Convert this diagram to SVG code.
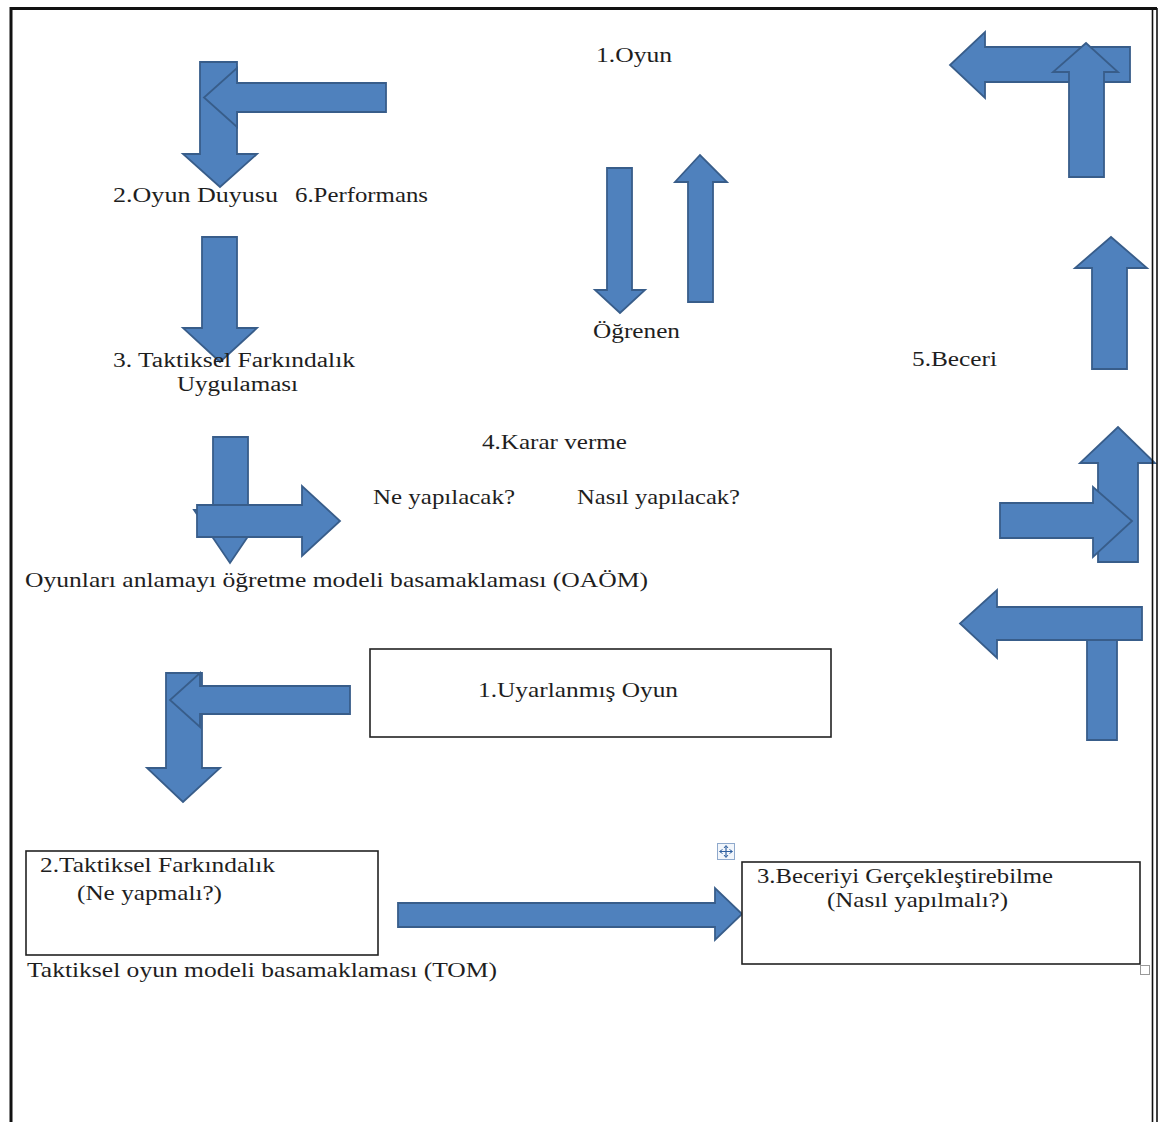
<svg xmlns="http://www.w3.org/2000/svg" width="1165" height="1122" viewBox="0 0 1165 1122">
<style>
.ar{fill:#4F81BD;stroke:#385D8A;stroke-width:1.8;stroke-linejoin:miter}
.bx{fill:#fff;stroke:#222;stroke-width:1.6}
.t{font-family:"Liberation Serif","Times New Roman",serif;font-size:22px;fill:#1e1e1e}
.s{font-size:20px}
.bd{fill:none;stroke:#111}
</style>
<rect width="1165" height="1122" fill="#fff"/>

<g id="connectors">
  <path class="ar" d="M200,62 H237 V154 H257 L220,187 L183,154 H200 Z"/>
  <path class="ar" d="M386,83 V112 H237 V127 L204,97.5 L237,68 V83 Z"/>
  <path class="ar" d="M202,237 H237 V328 H257 L220,362 L183,328 H202 Z"/>
  <path class="ar" d="M213,437 H248 V510 H266 L230,563 L194,510 H213 Z"/>
  <path class="ar" d="M197,505 H302 V486 L340,521 L302,556 V537 H197 Z"/>
  <path class="ar" d="M607,168 H632 V290 H645 L620,313 L595,290 H607 Z"/>
  <path class="ar" d="M688,302 H713 V182 H727 L700,155 L675,182 H688 Z"/>
  <path class="ar" d="M1130,47 V82 H985 V98 L950,65 L985,32 V47 Z"/>
  <path class="ar" d="M1069,177 H1104 V72 H1118 L1086,43 L1053,72 H1069 Z"/>
  <path class="ar" d="M1092,369 H1127 V268 H1147 L1111,237 L1075,268 H1092 Z"/>
  <path class="ar" d="M1098,562 H1138 V463 H1155 L1118,427 L1080,463 H1098 Z"/>
  <path class="ar" d="M1000,503 H1093 V487 L1132,521 L1093,557 V538 H1000 Z"/>
  <path class="ar" d="M1087,630 H1117 V740 H1087 Z"/>
  <path class="ar" d="M1142,607 V640 H997 V658 L960,623.5 L997,590 V607 Z"/>
  <path class="ar" d="M166,673 H202 V768 H220 L183,802 L147,768 H166 Z"/>
  <path class="ar" d="M350,686 V714 H200 V727 L170,700 L200,673 V686 Z"/>
  <path class="ar" d="M398,903 H715 V888 L742,914 L715,940 V927 H398 Z"/>
</g>

<g id="n-oyun"><text class="t" x="596" y="62" textLength="76" lengthAdjust="spacingAndGlyphs">1.Oyun</text></g>
<g id="n-oyunduyusu"><text class="t" x="113" y="202" textLength="165" lengthAdjust="spacingAndGlyphs">2.Oyun Duyusu</text></g>
<g id="n-performans"><text class="t" x="295" y="202" textLength="133" lengthAdjust="spacingAndGlyphs">6.Performans</text></g>
<g id="n-taktiksel-uyg">
  <text class="t s" x="113" y="367" textLength="242" lengthAdjust="spacingAndGlyphs">3. Taktiksel Farkındalık</text>
  <text class="t s" x="177" y="391" textLength="121" lengthAdjust="spacingAndGlyphs">Uygulaması</text>
</g>
<g id="n-ogrenen"><text class="t" x="593" y="338" textLength="87" lengthAdjust="spacingAndGlyphs">Öğrenen</text></g>
<g id="n-beceri"><text class="t" x="912" y="366" textLength="85" lengthAdjust="spacingAndGlyphs">5.Beceri</text></g>
<g id="n-karar">
  <text class="t" x="482" y="449" textLength="145" lengthAdjust="spacingAndGlyphs">4.Karar verme</text>
  <text class="t" x="373" y="504" textLength="142" lengthAdjust="spacingAndGlyphs">Ne yapılacak?</text>
  <text class="t" x="577" y="504" textLength="163" lengthAdjust="spacingAndGlyphs">Nasıl yapılacak?</text>
</g>
<g id="n-oaom"><text class="t" x="25" y="587" textLength="623" lengthAdjust="spacingAndGlyphs">Oyunları anlamayı öğretme modeli basamaklaması (OAÖM)</text></g>

<g id="n-uyarlanmis">
  <rect class="bx" x="370" y="649" width="461" height="88"/>
  <text class="t" x="478" y="697" textLength="200" lengthAdjust="spacingAndGlyphs">1.Uyarlanmış Oyun</text>
</g>
<g id="n-taktiksel-fark">
  <rect class="bx" x="26" y="851" width="352" height="104"/>
  <text class="t" x="40" y="872" textLength="235" lengthAdjust="spacingAndGlyphs">2.Taktiksel Farkındalık</text>
  <text class="t" x="77" y="900" textLength="145" lengthAdjust="spacingAndGlyphs">(Ne yapmalı?)</text>
</g>
<g id="n-tom"><text class="t" x="27" y="977" textLength="470" lengthAdjust="spacingAndGlyphs">Taktiksel oyun modeli basamaklaması (TOM)</text></g>
<g id="n-beceriyi">
  <rect class="bx" x="742" y="862" width="398" height="102"/>
  <text class="t" x="757" y="883" textLength="296" lengthAdjust="spacingAndGlyphs">3.Beceriyi Gerçekleştirebilme</text>
  <text class="t" x="827" y="907" textLength="181" lengthAdjust="spacingAndGlyphs">(Nasıl yapılmalı?)</text>
</g>

<g id="handles">
  <rect x="717.5" y="843.5" width="17" height="16" fill="#f2f6fb" stroke="#8fa9cc" stroke-width="1"/>
  <path d="M726,846 V857 M720,851.5 H732" stroke="#2f5f9f" stroke-width="1.2" fill="none"/>
  <path d="M724,848 L726,845.5 L728,848 M724,855 L726,857.5 L728,855 M722.5,849.5 L719.5,851.5 L722.5,853.5 M729.5,849.5 L732.5,851.5 L729.5,853.5" stroke="#2f5f9f" stroke-width="1" fill="none"/>
  <rect x="1140.5" y="965.5" width="9" height="9" fill="#fff" stroke="#999" stroke-width="1"/>
</g>

<g id="border">
  <path class="bd" d="M11,1122 V8.5 H1157" stroke-width="3"/>
  <path class="bd" d="M1152.5,8 V1122" stroke-width="1.6"/>
  <path class="bd" d="M1157,8 V1122" stroke-width="1.6"/>
</g>
</svg>
